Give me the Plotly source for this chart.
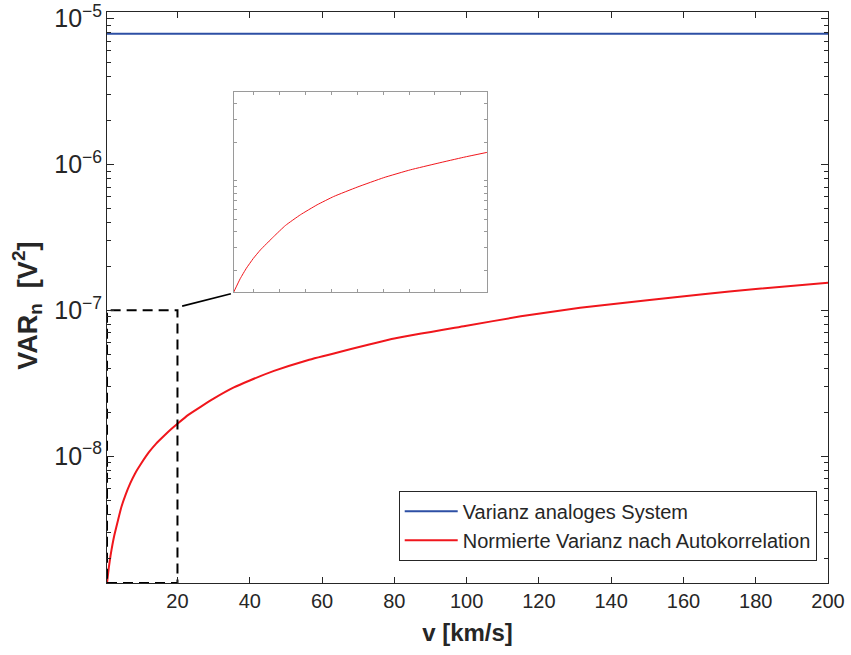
import numpy as np
import plotly.graph_objects as go

# ---- data ----
v_red = [0.5, 1.0, 1.48, 2.0, 2.56, 3.58, 4.48, 5.63, 6.92, 8.2, 10.0, 12.05, 14.1, 16.16, 18.21, 20.0,
         23.0, 26.4, 30.0, 35.6, 40.0, 46.7, 56.0, 65.1, 80.0, 99.6, 115.0, 131.4, 150.0, 165.4, 180.0, 200.0]
var_red = [1.35e-9, 1.72e-9, 2.08e-9, 2.47e-9, 2.89e-9, 3.67e-9, 4.48e-9, 5.43e-9, 6.50e-9, 7.55e-9, 8.93e-9,
           1.06e-8, 1.22e-8, 1.37e-8, 1.53e-8, 1.67e-8,
           1.92e-8, 2.18e-8, 2.48e-8, 2.96e-8, 3.30e-8, 3.84e-8, 4.55e-8, 5.20e-8, 6.40e-8, 7.80e-8, 9.10e-8,
           1.04e-7, 1.17e-7, 1.29e-7, 1.40e-7, 1.545e-7]
v_blue = [0.5, 200.0]
var_blue = [7.88e-6, 7.88e-6]

x_range = [0.5, 200.0]
y_range = [1.35e-9, 1.11e-5]
zoom_x = [0.5, 20.0]
zoom_y = [1.35e-9, 1.0e-7]
inset_y = [1.35e-9, 4.93e-8]
x_ticks = [20, 40, 60, 80, 100, 120, 140, 160, 180, 200]
n_inset = 16  # points of the red series shown in the inset (v <= 20)

names = ["Varianz analoges System", "Normierte Varianz nach Autokorrelation"]
x_title = "<b>v [km/s]</b>"
y_title = "<b>VAR<sub>n</sub>&nbsp; [V<sup>2</sup>]</b>"
BLUE = "#2d4fa4"
RED = "#f0161c"
AX = "#262626"
GRAY = "#9a9a9a"
FONT = "Liberation Sans, Arial, sans-serif"

fig = go.Figure()
fig.add_trace(go.Scatter(x=v_blue, y=var_blue, mode="lines", name=names[0],
                         line=dict(color=BLUE, width=2)))
fig.add_trace(go.Scatter(x=v_red, y=var_red, mode="lines", name=names[1],
                         line=dict(color=RED, width=2, shape="spline", smoothing=0.4)))
# dashed zoom box
fig.add_trace(go.Scatter(x=[zoom_x[0], zoom_x[1], zoom_x[1], zoom_x[0], zoom_x[0]],
                         y=[zoom_y[0], zoom_y[0], zoom_y[1], zoom_y[1], zoom_y[0]],
                         mode="lines", showlegend=False, hoverinfo="skip",
                         line=dict(color="black", width=2, dash="10px,6px")))
# inset curve
fig.add_trace(go.Scatter(x=v_red[:n_inset], y=var_red[:n_inset], mode="lines", showlegend=False,
                         xaxis="x2", yaxis="y2",
                         line=dict(color=RED, width=1, shape="spline", smoothing=0.4)))

L, R, T, B = 106.5, 23, 11.7, 72
W, H = 851, 655
pw = W - L - R
ph = H - T - B
ix0, ix1 = (233.3 - L) / pw, (486.7 - L) / pw
iy0, iy1 = (H - B - 292) / ph, (H - B - 92) / ph

fig.update_layout(
    width=W, height=H, margin=dict(l=L, r=R, t=T, b=B, autoexpand=False),
    paper_bgcolor="white", plot_bgcolor="white",
    font=dict(family=FONT, color=AX, size=20),
    xaxis=dict(range=x_range, tickvals=x_ticks, ticks="inside", ticklen=6, tickcolor=AX,
               showline=True, linecolor=AX, linewidth=1, mirror="ticks", showgrid=False,
               zeroline=False, tickfont=dict(size=20, color=AX), automargin=False,
               title=dict(text=x_title, font=dict(size=24, color=AX), standoff=13)),
    yaxis=dict(type="log", range=[np.log10(y_range[0]), np.log10(y_range[1])], dtick=1,
               exponentformat="power", ticks="inside", ticklen=7, tickcolor=AX,
               showline=True, linecolor=AX, linewidth=1, mirror="ticks", showgrid=False,
               zeroline=False, tickfont=dict(size=20, color=AX), automargin=False,
               minor=dict(ticks="inside", ticklen=4, dtick="D1", tickcolor=AX, showgrid=False)),
    xaxis2=dict(domain=[ix0, ix1], anchor="y2", range=zoom_x, tick0=0, dtick=2,
                ticks="inside", ticklen=3, tickcolor=GRAY, showticklabels=False,
                showline=True, linecolor=GRAY, linewidth=1, mirror="ticks",
                showgrid=False, zeroline=False),
    yaxis2=dict(domain=[iy0, iy1], anchor="x2", type="log",
                range=[np.log10(inset_y[0]), np.log10(inset_y[1])], dtick="D1",
                ticks="inside", ticklen=3, tickcolor=GRAY, showticklabels=False,
                showline=True, linecolor=GRAY, linewidth=1, mirror="ticks",
                showgrid=False, zeroline=False),
    legend=dict(x=(816.7 - L) / pw, y=(H - B - 560.7) / ph, xanchor="right", yanchor="bottom",
                bgcolor="white", bordercolor=AX, borderwidth=1,
                font=dict(size=20, color=AX), itemwidth=53, tracegroupgap=0),
    showlegend=True,
)

# y-axis title as a rotated annotation (placed like the reference)
fig.add_annotation(text=y_title, textangle=-90, showarrow=False,
                   xref="paper", yref="paper", x=(27 - L) / pw, y=(H - B - 306) / ph,
                   xanchor="center", yanchor="middle", font=dict(size=27, color=AX))

# connector line from zoom box corner to inset corner (paper coords)
fig.add_shape(type="line", xref="paper", yref="paper",
              x0=(181.7 - L) / pw, y0=(H - B - 306) / ph,
              x1=(230.5 - L) / pw, y1=(H - B - 293.5) / ph,
              line=dict(color="black", width=1.6))

fig.write_html("out.html")
